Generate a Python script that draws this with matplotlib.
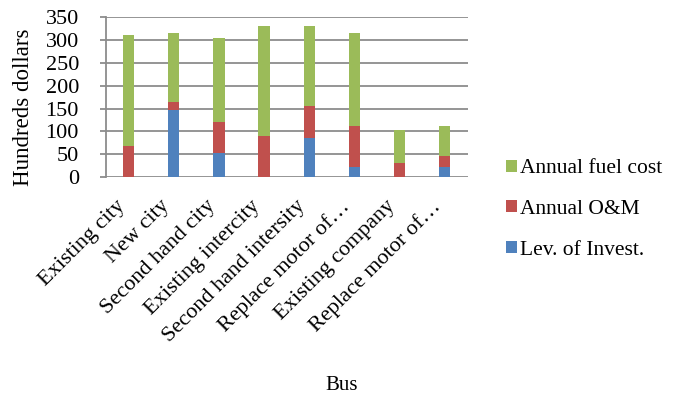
import matplotlib
matplotlib.use("Agg")
import matplotlib.pyplot as plt
import numpy as np

plt.rcParams['font.family'] = ['Liberation Serif', 'DejaVu Serif']

buses = ["Existing city", "New city", "Second hand city", "Existing intercity",
         "Second hand intersity", "Replace motor of\u2026", "Existing company",
         "Replace motor of\u2026"]
invest = [0, 148, 53, 0, 86, 22, 0, 22]
om = [69, 16, 67, 90, 69, 90, 30, 24]
fuel = [243, 152, 184, 241, 176, 204, 74, 66]

c_blue = '#4F81BD'
c_red = '#C0504D'
c_green = '#9BBB59'
c_grid = '#8c8c8c'

fig = plt.figure(figsize=(6.81, 3.99), dpi=100)
ax = fig.add_axes([0.1557, 0.5564, 0.5316, 0.3998])

x = np.arange(len(buses))
w = 0.25
b1 = ax.bar(x, invest, w, color=c_blue, zorder=3)
b2 = ax.bar(x, om, w, bottom=invest, color=c_red, zorder=3)
bottom3 = np.array(invest) + np.array(om)
b3 = ax.bar(x, fuel, w, bottom=bottom3, color=c_green, zorder=3)

ax.set_xlim(-0.5, 7.52)
ax.set_ylim(0, 350)
ax.set_yticks(range(0, 351, 50))
ax.yaxis.grid(True, color=c_grid, linewidth=1.3, zorder=0)
for s in ['top', 'right', 'bottom']:
    ax.spines[s].set_visible(False)
ax.spines['left'].set_color(c_grid)
ax.spines['left'].set_linewidth(1.3)
ax.tick_params(axis='x', length=0, pad=14, labelsize=16)
ax.tick_params(axis='y', length=4.5, width=1.3, color=c_grid, pad=15, labelsize=16)

ax.set_xticks(x)
ax.set_xticklabels(buses, rotation=45, ha='right', va='top')
ax.set_ylabel("Hundreds dollars", fontsize=16.5, labelpad=0)
ax.yaxis.set_label_coords(-0.2, 0.44)
fig.text(0.502, 0.033, "Bus", ha='center', va='center', fontsize=15)

fig.legend([b3, b2, b1], ["Annual fuel cost", "Annual O&M", "Lev. of Invest."],
           loc='center left', bbox_to_anchor=(0.715, 0.475), frameon=False,
           fontsize=15.5, handlelength=0.5, handleheight=0.5,
           handletextpad=0.15, labelspacing=1.0)

fig.savefig("out.png", dpi=100)
